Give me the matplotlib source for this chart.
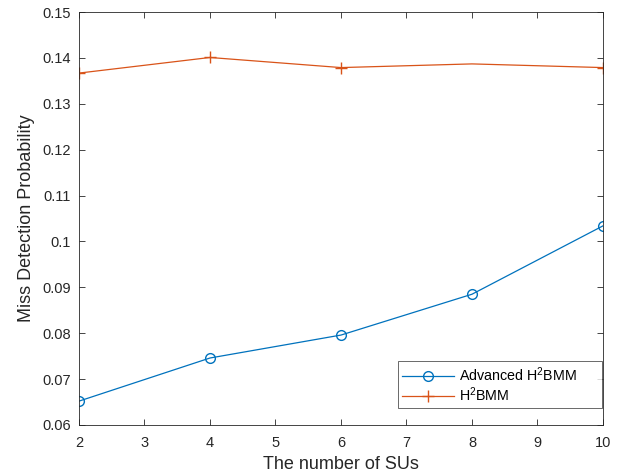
import matplotlib
matplotlib.use("Agg")
import matplotlib.pyplot as plt

plt.rcParams['font.family'] = ['Liberation Sans', 'DejaVu Sans']
plt.rcParams['mathtext.fontset'] = 'custom'
plt.rcParams['mathtext.rm'] = 'Liberation Sans'
plt.rcParams['mathtext.it'] = 'Liberation Sans'
plt.rcParams['mathtext.default'] = 'regular'

num_sus = [2, 4, 6, 8, 10]
advanced_h2bmm = [0.0652, 0.0746, 0.0796, 0.0885, 0.1034]
h2bmm = [0.1367, 0.1401, 0.1379, 0.1387, 0.1379]

blue = (0, 0.447, 0.741)
red = (0.85, 0.325, 0.098)
axcol = (0.15, 0.15, 0.15)

fig = plt.figure(figsize=(6.19, 4.73), dpi=100)
ax = fig.add_axes([0.1276, 0.1015, 0.8465, 0.873])

ax.plot(num_sus, advanced_h2bmm, color=blue, marker='o', markersize=7,
        markerfacecolor='none', linewidth=0.9, label='Advanced H$^2$BMM')
ax.plot(num_sus, h2bmm, color=red, marker='+', markersize=9,
        linewidth=0.9, markevery=[0, 1, 2, 4], label='H$^2$BMM')

ax.set_xlim(2, 10)
ax.set_ylim(0.06, 0.15)
ax.set_xticks(range(2, 11))
ax.set_yticks([0.06, 0.07, 0.08, 0.09, 0.1, 0.11, 0.12, 0.13, 0.14, 0.15])
ax.set_yticklabels(['0.06', '0.07', '0.08', '0.09', '0.1', '0.11', '0.12', '0.13', '0.14', '0.15'])
ax.tick_params(direction='in', top=True, right=True, length=4, width=0.6,
               colors=axcol, labelsize=10.5)
ax.tick_params(axis='x', pad=8)
ax.tick_params(axis='y', pad=6)
for s in ax.spines.values():
    s.set_color(axcol)
    s.set_linewidth(0.6)

ax.set_xlabel('The number of SUs', fontsize=13, color=axcol, labelpad=4)
ax.set_ylabel('Miss Detection Probability', fontsize=13, color=axcol, labelpad=5)

leg = ax.legend(loc='lower left', bbox_to_anchor=(0.609, 0.041, 0.389, 0.11),
                mode='expand', borderaxespad=0,
                fontsize=10.3, frameon=True, fancybox=False, edgecolor=axcol,
                handlelength=3.6, borderpad=0.3, labelspacing=0.1,
                handletextpad=0.35)
leg.get_frame().set_linewidth(0.6)

fig.savefig('out.png', dpi=100)
